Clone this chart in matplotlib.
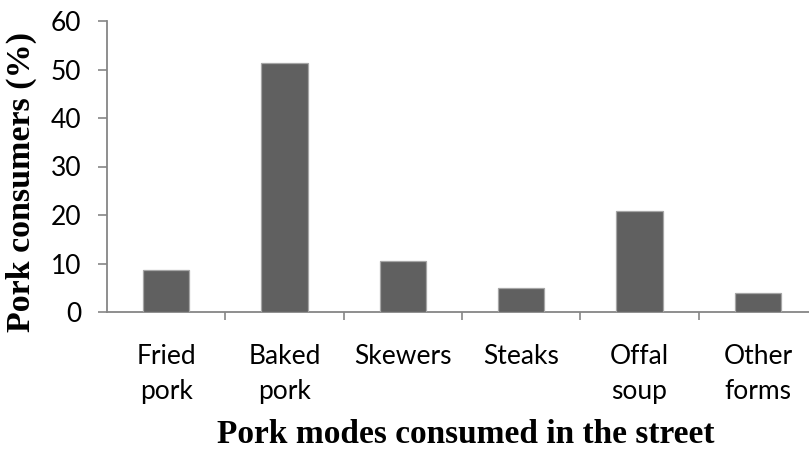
import matplotlib
matplotlib.use("Agg")
import matplotlib.pyplot as plt
import numpy as np

categories = ["Fried\npork", "Baked\npork", "Skewers", "Steaks", "Offal\nsoup", "Other\nforms"]
values = [8.7, 51.4, 10.6, 4.9, 20.8, 4.0]
yticks = [0, 10, 20, 30, 40, 50, 60]

W, H = 809, 450
fig = plt.figure(figsize=(W / 100, H / 100), dpi=100)
ax = fig.add_axes([107 / W, (H - 312) / H, 710 / W, 291 / H])

x = np.arange(len(categories))
ax.bar(x, values, width=0.39, color="#606060", edgecolor="#a6a6a6", linewidth=0.9, zorder=3)

ax.set_xlim(-0.5, len(categories) - 0.5)
ax.set_ylim(0, 60)
ax.set_yticks(yticks)
ax.set_yticklabels([str(v) for v in yticks], fontfamily="Lato", fontsize=19)
ax.set_xticks(x)
ax.set_xticklabels(categories, fontfamily="Lato", fontsize=19, linespacing=1.5)
ax.set_xticks(np.arange(len(categories)) + 0.5, minor=True)
ax.tick_params(axis="x", which="major", length=0, pad=23)
ax.tick_params(axis="x", which="minor", length=6, width=1.2, color="#868686", direction="out")
ax.tick_params(axis="y", which="major", length=6.5, width=1.2, color="#868686", direction="out", pad=12)

for s in ["top", "right"]:
    ax.spines[s].set_visible(False)
for s in ["left", "bottom"]:
    ax.spines[s].set_color("#868686")
    ax.spines[s].set_linewidth(1.3)

fig.text(466 / W, 1 - 443 / H, "Pork modes consumed in the street", ha="center", va="baseline",
         fontfamily="Liberation Serif", fontweight="bold", fontsize=24)
fig.text(21 / W, 1 - 182 / H, "Pork consumers (%)", ha="center", va="center", rotation=90,
         fontfamily="Liberation Serif", fontweight="bold", fontsize=24.5)

fig.savefig("out.png", dpi=100)
